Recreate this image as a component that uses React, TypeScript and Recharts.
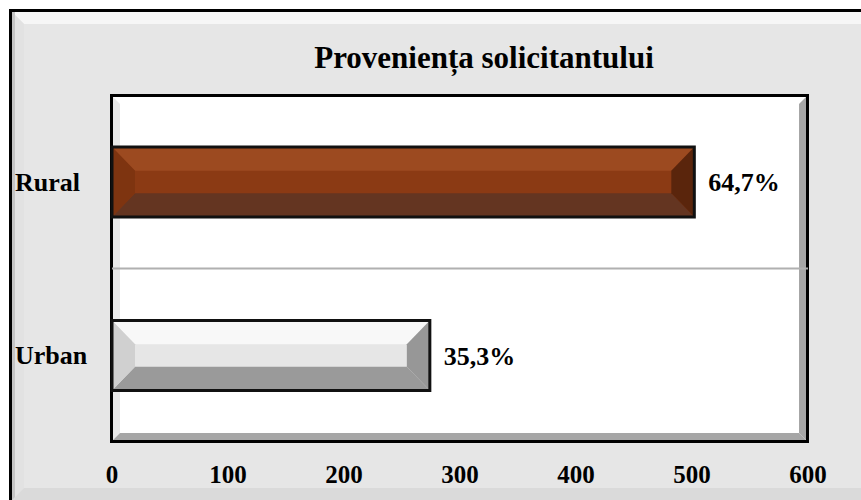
import React from 'react';
import { BarChart, Bar, XAxis, YAxis, CartesianGrid, LabelList } from 'recharts';

const categories = ['Rural', 'Urban'];
const counts = [502, 274];
const percentLabels = ['64,7%', '35,3%'];
const xTicks = [0, 100, 200, 300, 400, 500, 600];
const title = 'Proveniența solicitantului';

const palettes = [
  { top: '#9C4A20', face: '#8B3A14', bottom: '#643521', left: '#7E3410', right: '#5A250C' },
  { top: '#F8F8F8', face: '#E6E6E6', bottom: '#9A9A9A', left: '#D0D0D0', right: '#979797' },
];

const data = categories.map((name, i) => ({ name, value: counts[i], label: percentLabels[i] }));

const FONT = '"Liberation Serif", "Times New Roman", serif';
const W = 861;
const H = 500;

function BevelBar(props: any) {
  const { x, y, width, height, index } = props;
  if (width <= 0 || height <= 0) return null;
  const p = palettes[index % palettes.length];
  const bh = Math.min(23, width / 2);
  const bv = height * 0.34;
  const pts = (a: number[][]) => a.map((q) => q.join(',')).join(' ');
  return (
    <g>
      <rect x={x} y={y} width={width} height={height} fill={p.face} />
      <polygon points={pts([[x, y], [x + width, y], [x + width - bh, y + bv], [x + bh, y + bv]])} fill={p.top} />
      <polygon points={pts([[x, y + height], [x + width, y + height], [x + width - bh, y + height - bv], [x + bh, y + height - bv]])} fill={p.bottom} />
      <polygon points={pts([[x, y], [x + bh, y + bv], [x + bh, y + height - bv], [x, y + height]])} fill={p.left} />
      <polygon points={pts([[x + width, y], [x + width - bh, y + bv], [x + width - bh, y + height - bv], [x + width, y + height]])} fill={p.right} />
      <rect x={x} y={y} width={width} height={height} fill="none" stroke="#111" strokeWidth={3} />
    </g>
  );
}

function CatTick(props: any) {
  const { y, payload } = props;
  return (
    <text x={15} y={y} dy={9} textAnchor="start" fontFamily={FONT} fontWeight="bold" fontSize={26} fill="#000">
      {payload.value}
    </text>
  );
}

function NumTick(props: any) {
  const { x, y, payload } = props;
  return (
    <text x={x} y={y} dy={41} textAnchor="middle" fontFamily={FONT} fontWeight="bold" fontSize={25} fill="#000">
      {payload.value}
    </text>
  );
}

function Frame() {
  return (
    <svg width={W} height={H} style={{ position: 'absolute', left: 0, top: 0 }}>
      <rect x={10.5} y={10.5} width={870} height={510} fill="#E6E6E6" stroke="#000" strokeWidth={3} />
      <polygon points="12,12 861,12 861,24 24,24" fill="#F6F6F6" />
      <polygon points="12,12 24,24 24,488 12,500" fill="#E2E2E2" />
      <rect x={12} y={12} width={3} height={488} fill="#C4C4C4" />
      <polygon points="24,488 861,488 861,500 12,500" fill="#DADADA" />
      <rect x={111.5} y={95.5} width={696} height={346} fill="#FFFFFF" stroke="#000" strokeWidth={3} />
      <polygon points="113,97 120,104 120,433 113,440" fill="#E9E9E9" />
      <polygon points="806,97 806,440 799,433 799,104" fill="#A6A6A6" />
      <polygon points="113,440 806,440 799,433 120,433" fill="#A6A6A6" />
    </svg>
  );
}

export default function App() {
  return (
    <div style={{ position: 'absolute', left: 0, top: 0, width: W, height: H, background: '#fff' }}>
      <Frame />
      <div style={{ position: 'absolute', left: 0, top: 0 }}>
        <BarChart
          width={W}
          height={H}
          data={data}
          layout="vertical"
          margin={{ top: 95, right: 53, bottom: 18, left: 15 }}
          barSize={70}
        >
          <CartesianGrid
            vertical={false}
            horizontal={true}
            stroke="#B0B0B0"
            strokeWidth={2}
            horizontalCoordinatesGenerator={({ offset }: any) => [offset.top + offset.height / 2]}
          />
          <XAxis
            type="number"
            domain={[0, 600]}
            ticks={xTicks}
            axisLine={false}
            tickLine={false}
            tickSize={0}
            tickMargin={0}
            height={40}
            tick={<NumTick />}
            interval={0}
          />
          <YAxis
            type="category"
            dataKey="name"
            width={97}
            axisLine={false}
            tickLine={false}
            tick={<CatTick />}
          />
          <Bar dataKey="value" shape={<BevelBar />} isAnimationActive={false}>
            <LabelList
              dataKey="label"
              position="right"
              offset={14}
              fill="#000"
              fontFamily={FONT}
              fontWeight="bold"
              fontSize={26}
            />
          </Bar>
        </BarChart>
      </div>
      <svg width={W} height={100} style={{ position: 'absolute', left: 0, top: 0, pointerEvents: 'none' }}>
        <text x={484} y={68} textAnchor="middle" fontFamily={FONT} fontWeight="bold" fontSize={31} fill="#000">
          {title}
        </text>
      </svg>
    </div>
  );
}
